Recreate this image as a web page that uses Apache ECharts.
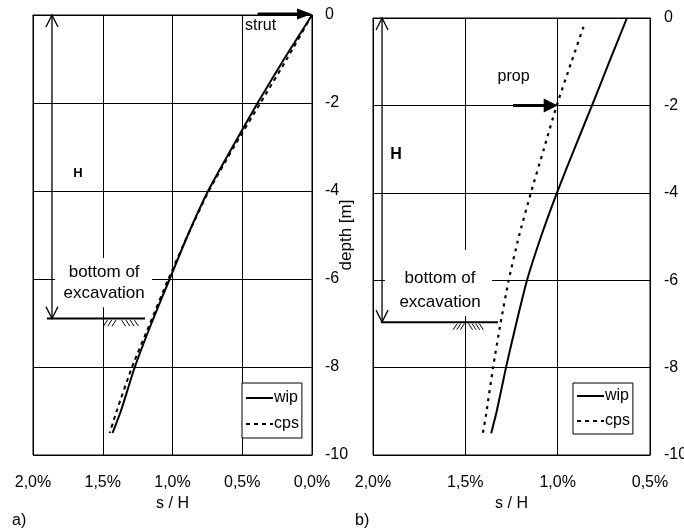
<!DOCTYPE html>
<html><head><meta charset="utf-8">
<script src="https://cdn.jsdelivr.net/npm/echarts@6/dist/echarts.min.js"></script>
<style>html,body{margin:0;padding:0;background:#fff}#c{width:684px;height:528px}</style>
</head><body><div id="c"></div>
<script>
// ---- data (s/H in %, depth in m) ----
const depthA = [0, -1, -2, -3, -4, -5, -6, -7, -8, -9, -9.5];
const wipA   = [0, 0.2, 0.39, 0.57, 0.745, 0.89, 1.02, 1.15, 1.27, 1.37, 1.43];
const cpsA   = [0, 0.18, 0.37, 0.56, 0.74, 0.89, 1.03, 1.16, 1.29, 1.40, 1.45];

const depthBw = [0, -1, -2, -3, -4, -5, -6, -7, -8, -9, -9.5];
const wipB    = [0.625, 0.72, 0.814, 0.91, 1.004, 1.09, 1.166, 1.225, 1.28, 1.33, 1.36];
const depthBc = [-0.2, -1, -2, -3, -4, -5, -6, -7, -8, -9, -9.5];
const cpsB    = [0.86, 0.925, 1.005, 1.075, 1.145, 1.21, 1.265, 1.31, 1.35, 1.385, 1.405];

const seriesNames = ['wip', 'cps'];
const xTickA = [0, 2, 0.5];   // min, max, interval
const xTickB = [0.5, 2, 0.5];
const yTick = [-10, 0, 2];
const xName = 's / H';
const yName = 'depth [m]';
const panelLabels = ['a)', 'b)'];

const FF = "'Liberation Sans', Arial, sans-serif";
const pairs = (xs, ys) => xs.map((x, i) => [x, ys[i]]);
const pctFmt = v => v.toFixed(1).replace('.', ',') + '%';

const chart = echarts.init(document.getElementById('c'), null, {renderer: 'canvas'});

function xAxisCfg(g, t) {
  return {
    gridIndex: g, type: 'value', min: t[0], max: t[1], interval: t[2], inverse: true,
    name: xName, nameLocation: 'middle', nameGap: 39,
    nameTextStyle: {fontFamily: FF, fontSize: 16, color: '#000'},
    axisLine: {show: true, lineStyle: {color: '#000', width: 1}},
    axisTick: {show: false},
    axisLabel: {formatter: pctFmt, margin: 20, fontFamily: FF, fontSize: 16, color: '#000', showMinLabel: true, showMaxLabel: true},
    splitLine: {show: true, lineStyle: {color: '#000', width: 1}}
  };
}
function yAxisCfg(g, withName, margin) {
  const c = {
    gridIndex: g, type: 'value', min: yTick[0], max: yTick[1], interval: yTick[2], position: 'right',
    axisLine: {show: true, lineStyle: {color: '#000', width: 1}},
    axisTick: {show: false},
    axisLabel: {margin: margin, fontFamily: FF, fontSize: 16, color: '#000', showMinLabel: true, showMaxLabel: true},
    splitLine: {show: true, lineStyle: {color: '#000', width: 1}}
  };
  if (withName) {
    Object.assign(c, {name: yName, nameLocation: 'middle', nameRotate: 90, nameGap: 26, nameMoveOverlap: false,
      nameTextStyle: {fontFamily: FF, fontSize: 17, color: '#000'}});
  }
  return c;
}
function legendCfg(left, top, pad, gap) {
  return {
    data: seriesNames, left: left, top: top, orient: 'vertical', selectedMode: false,
    backgroundColor: '#fff', borderColor: '#000', borderWidth: 1, borderRadius: 0,
    padding: pad, itemGap: gap, itemWidth: 27, itemHeight: 14,
    itemStyle: {opacity: 0, color: 'rgba(0,0,0,0)', borderWidth: 0},
    textStyle: {fontFamily: FF, fontSize: 16, color: '#000', padding: [0, 0, 0, -4]}
  };
}

chart.setOption({
  animation: false,
  backgroundColor: '#fff',
  grid: [
    {left: 33, top: 15, width: 279, height: 440, show: true, borderColor: '#000', borderWidth: 1,
     backgroundColor: 'transparent', containLabel: false, outerBoundsMode: 'none'},
    {left: 373, top: 18, width: 277, height: 437, show: true, borderColor: '#000', borderWidth: 1,
     backgroundColor: 'transparent', containLabel: false, outerBoundsMode: 'none'}
  ],
  xAxis: [xAxisCfg(0, xTickA), xAxisCfg(1, xTickB)],
  yAxis: [yAxisCfg(0, true, 13), yAxisCfg(1, false, 14)],
  legend: [legendCfg(242, 383, [7, 3, 6, 3], 10), legendCfg(573, 383, [5, 3, 5, 3], 9)],
  series: [
    {type: 'line', name: seriesNames[0], xAxisIndex: 0, yAxisIndex: 0, data: pairs(wipA, depthA),
     symbol: 'none', smooth: 0.2, lineStyle: {color: '#000', width: 2}, itemStyle: {color: '#000'}},
    {type: 'line', name: seriesNames[1], xAxisIndex: 0, yAxisIndex: 0, data: pairs(cpsA, depthA),
     symbol: 'none', smooth: 0.2, lineStyle: {color: '#000', width: 2, type: [4, 4]}, itemStyle: {color: '#000'}},
    {type: 'line', name: seriesNames[0], xAxisIndex: 1, yAxisIndex: 1, data: pairs(wipB, depthBw),
     symbol: 'none', smooth: 0.2, lineStyle: {color: '#000', width: 2}, itemStyle: {color: '#000'}},
    {type: 'line', name: seriesNames[1], xAxisIndex: 1, yAxisIndex: 1, data: pairs(cpsB, depthBc),
     symbol: 'none', smooth: 0.2, lineStyle: {color: '#000', width: 2.2, type: [3, 5]}, itemStyle: {color: '#000'}}
  ]
});

// ---- annotations, placed in data units of each panel ----
const notes = [
  { g: 0, force: 'strut', forceText: [0.48, -0.25, 'left'], arrow: [0.39, 0.0, 0], headLen: 15, headHalf: 5.5,
    hX: 1.864, hBottom: -6.9, hText: [1.677, -3.59], hFont: 'bold 13px ' + FF,
    excav: [1.90, 1.197], hatch: [1.505, 1.25],
    box: [1.842, 1.147, -5.52, -6.64], boxText: [1.49, -5.84, -6.32] },
  { g: 1, force: 'prop', forceText: [1.239, -1.35, 'center'], arrow: [1.242, 1.0, -2], headLen: 14, headHalf: 7,
    hX: 1.951, hBottom: -6.96, hText: [1.875, -3.13], hFont: 'bold 16px ' + FF,
    excav: [1.957, 1.323], hatch: [1.572, 1.41],
    box: [1.935, 1.356, -5.31, -6.82], boxText: [1.637, -5.95, -6.5] }
];

function P(g, v, d) { return chart.convertToPixel({gridIndex: g}, [v, d]); }
const els = [];
const txt = (x, y, s, font, align) => ({type: 'text', x: x, y: y, z: 20,
  style: {text: s, font: font, fill: '#000', align: align || 'center', verticalAlign: 'middle',
          textAlign: align || 'center', textVerticalAlign: 'middle'}});
const ln = (a, b, w) => ({type: 'line', z: 19, shape: {x1: a[0], y1: a[1], x2: b[0], y2: b[1]}, style: {stroke: '#000', lineWidth: w}});

notes.forEach(n => {
  const g = n.g;
  // white label box
  const b1 = P(g, n.box[0], n.box[2]), b2 = P(g, n.box[1], n.box[3]);
  els.push({type: 'rect', z: 18, shape: {x: b1[0], y: b1[1], width: b2[0] - b1[0], height: b2[1] - b1[1]}, style: {fill: '#fff'}});
  const t1 = P(g, n.boxText[0], n.boxText[1]), t2 = P(g, n.boxText[0], n.boxText[2]);
  els.push(txt(t1[0], t1[1], 'bottom of', '17px ' + FF));
  els.push(txt(t2[0], t2[1], 'excavation', '17px ' + FF));
  // force arrow (strut / prop)
  const a0 = P(g, n.arrow[0], n.arrow[2]), a1 = P(g, n.arrow[1], n.arrow[2]);
  const ay = a0[1] - (g === 0 ? 1 : 0);
  els.push(ln([a0[0], ay], [a1[0] - n.headLen + 2, ay], 3));
  els.push({type: 'polygon', z: 19, shape: {points: [[a1[0], ay], [a1[0] - n.headLen, ay - n.headHalf], [a1[0] - n.headLen, ay + n.headHalf]]}, style: {fill: '#000'}});
  const ft = P(g, n.forceText[0], n.forceText[1]);
  els.push(txt(ft[0], ft[1], n.force, '16px ' + FF, n.forceText[2]));
  // H dimension arrow
  const h0 = P(g, n.hX, 0), h1 = P(g, n.hX, n.hBottom);
  els.push(ln(h0, h1, 1.3));
  els.push({type: 'polyline', z: 19, shape: {points: [[h0[0] - 6, h0[1] + 12], [h0[0], h0[1]], [h0[0] + 6, h0[1] + 12]]}, style: {stroke: '#000', lineWidth: 1.3, fill: null}});
  els.push({type: 'polyline', z: 19, shape: {points: [[h1[0] - 6, h1[1] - 12], [h1[0], h1[1]], [h1[0] + 6, h1[1] - 12]]}, style: {stroke: '#000', lineWidth: 1.3, fill: null}});
  const ht = P(g, n.hText[0], n.hText[1]);
  els.push(txt(ht[0], ht[1], 'H', n.hFont));
  // excavation level line
  const e0 = P(g, n.excav[0], n.hBottom), e1 = P(g, n.excav[1], n.hBottom);
  els.push(ln(e0, e1, 2));
  // soil hatching
  const s0 = P(g, n.hatch[0], n.hBottom), s1 = P(g, n.hatch[1], n.hBottom);
  const w = s1[0] - s0[0], y0 = s0[1] + 1.5;
  for (let i = 0; i < 3; i++) {
    const x = s0[0] + w * (0.04 + i * 0.12);
    els.push(ln([x, y0 + 6], [x + 4, y0], 1));
  }
  for (let i = 0; i < 4; i++) {
    const x = s0[0] + w * (0.55 + i * 0.12);
    els.push(ln([x, y0], [x + 4, y0 + 6], 1));
  }
});
els.push(txt(12, 521, panelLabels[0], '16px ' + FF, 'left'));
els.push(txt(355, 521, panelLabels[1], '16px ' + FF, 'left'));
chart.setOption({graphic: {elements: els}});
</script>
</body></html>
